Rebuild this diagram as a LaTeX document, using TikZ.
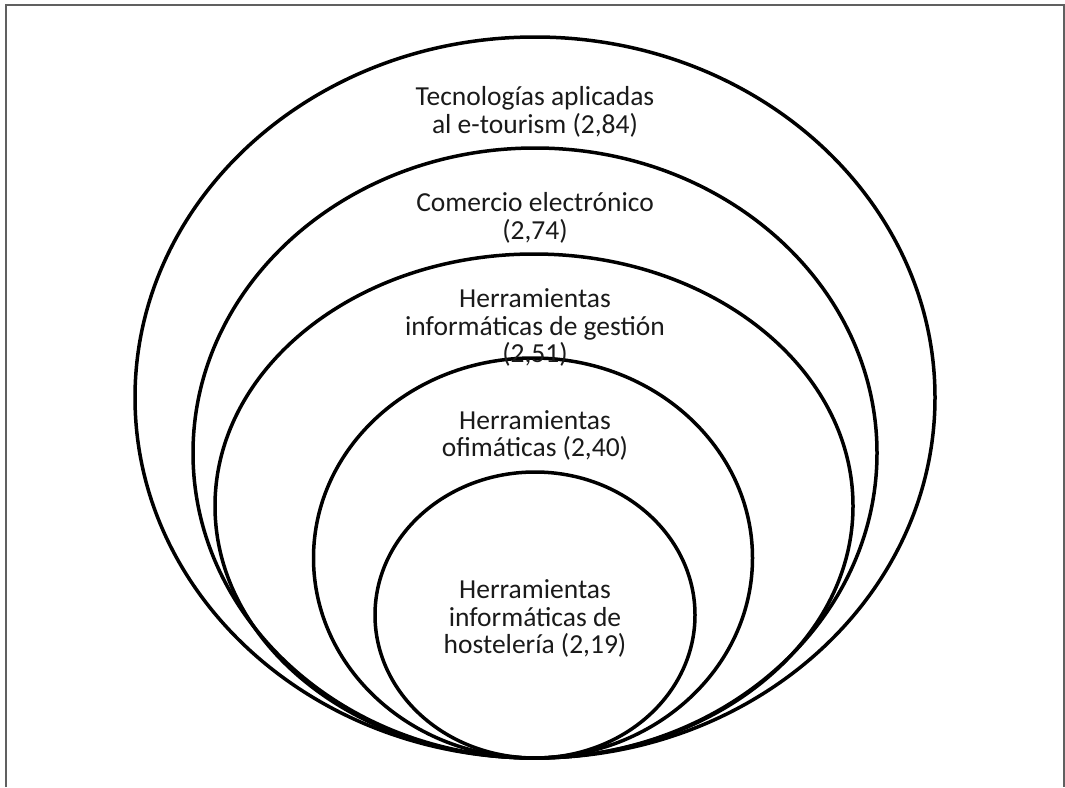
\documentclass[tikz,border=0pt]{standalone}
\usepackage{fontspec}
\setmainfont{Carlito}
\usetikzlibrary{shapes.geometric}
\definecolor{framegray}{HTML}{606060}
\definecolor{ink}{HTML}{1A1A1A}
\begin{document}
\begin{tikzpicture}[x=1pt,y=-1pt,
  ring/.style={draw=black,line width=3.5pt,ellipse,inner sep=0pt,outer sep=0pt},
  label/.style={align=center,text=ink,inner sep=0pt,
    font=\fontsize{27.5}{27.5}\selectfont}]
\useasboundingbox (0,0) rectangle (1065,787);
% open frame (no bottom edge)
\draw[framegray,line width=2pt] (6,787) -- (6,5) -- (1064,5) -- (1064,787);
% nested rings, all touching at the bottom point (535,758)
\node[ring,minimum width=800pt,minimum height=721pt] (e1) at (535,397.5) {};
\node[ring,minimum width=684pt,minimum height=610pt] (e2) at (535,453) {};
\node[ring,minimum width=638pt,minimum height=504pt] (e3) at (534,506) {};
\node[ring,minimum width=439pt,minimum height=400pt] (e4) at (533,558) {};
\node[ring,minimum width=320pt,minimum height=286pt] (e5) at (535,615) {};
% labels
\node[label] (t1) at (535,112) {Tecnologías aplicadas\\al e-tourism (2,84)};
\node[label] (t2) at (535,218) {Comercio electrónico\\(2,74)};
\node[label] (t3) at (535,327.5) {Herramientas\\informáticas de gestión\\(2,51)};
\node[label] (t4) at (535,435.5) {Herramientas\\ofimáticas (2,40)};
\node[label] (t5) at (535,618.5) {Herramientas\\informáticas de\\hostelería (2,19)};
\end{tikzpicture}
\end{document}
